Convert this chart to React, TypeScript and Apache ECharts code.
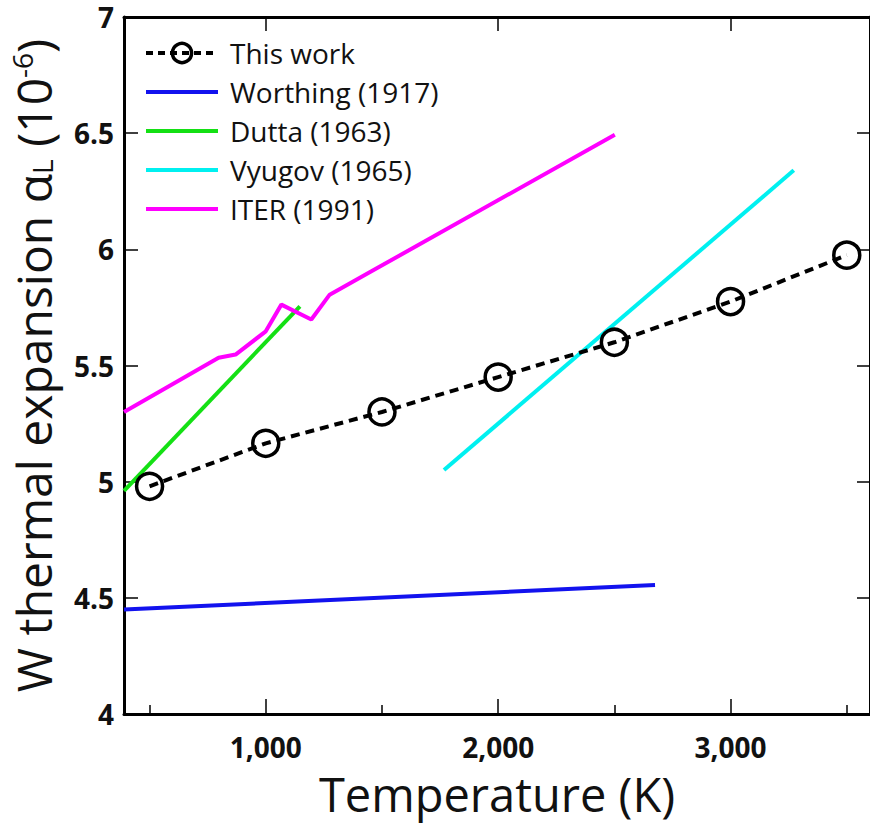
import React, { useEffect, useRef } from "react";
import * as echarts from "echarts";

// ---- data ----
const seriesNames = ["This work", "Worthing (1917)", "Dutta (1963)", "Vyugov (1965)", "ITER (1991)"];

const thisWorkT = [500, 1000, 1500, 2000, 2500, 3000, 3500];
const thisWorkA = [4.98, 5.165, 5.3, 5.45, 5.6, 5.775, 5.975];

const worthingT = [390, 2675];
const worthingA = [4.45, 4.555];

const duttaT = [390, 1147];
const duttaA = [4.96, 5.755];

const vyugovT = [1767, 3272];
const vyugovA = [5.05, 6.34];

const iterT = [390, 797, 870, 1000, 1067, 1196, 1275, 1468, 2502];
const iterA = [5.3, 5.533, 5.547, 5.647, 5.762, 5.698, 5.805, 5.913, 6.493];

const xMajorTicks = [1000, 2000, 3000];
const xMinorTicks = [500, 1500, 2500, 3500];

const lineColors = ["#000000", "#1212ee", "#14e014", "#00f0f0", "#ff00ff"];

const FONT = "'Open Sans', 'Noto Sans', 'DejaVu Sans', sans-serif";

const zip = (xs: number[], ys: number[]) => xs.map((x, i) => [x, ys[i]]);

export default function App() {
  const ref = useRef<HTMLDivElement>(null);

  useEffect(() => {
    if (!ref.current) return;
    const chart = echarts.init(ref.current, undefined, { renderer: "svg" });

    const xBase = { type: "value", min: 390, max: 3600, splitLine: { show: false } };
    const yBase = { type: "value", min: 4, max: 7, interval: 0.5, splitLine: { show: false } };

    const plainLine = (name: string, xs: number[], ys: number[], color: string) => ({
      name,
      type: "line",
      data: zip(xs, ys),
      symbol: "none",
      showSymbol: false,
      lineStyle: { color, width: 4 },
      itemStyle: { color: "rgba(0,0,0,0)", borderWidth: 0 },
      z: 2,
    });

    const legendLine = (name: string, color: string) => ({
      name,
      itemStyle: { color: "rgba(0,0,0,0)", borderWidth: 0, opacity: 0 },
      lineStyle: { color, width: 4 },
    });

    chart.setOption({
      animation: false,
      backgroundColor: "#ffffff",
      grid: { left: 123, top: 17, width: 751, height: 698, containLabel: false },
      legend: {
        data: [
          {
            name: seriesNames[0],
            itemStyle: { color: "rgba(255,255,255,0)", borderColor: "#000", borderWidth: 3.5 },
            lineStyle: { color: lineColors[0], width: 4, type: [7, 5] },
          },
          legendLine(seriesNames[1], lineColors[1]),
          legendLine(seriesNames[2], lineColors[2]),
          legendLine(seriesNames[3], lineColors[3]),
          legendLine(seriesNames[4], lineColors[4]),
        ],
        orient: "vertical",
        left: 139,
        top: 33,
        itemWidth: 72,
        itemHeight: 24,
        itemGap: 9,
        textStyle: {
          fontFamily: FONT,
          fontSize: 28,
          color: "#111",
          lineHeight: 30,
          padding: [0, 0, 0, 7],
        },
      },
      xAxis: [
        {
          ...xBase,
          position: "bottom",
          name: "Temperature (K)",
          nameLocation: "middle",
          nameGap: 54,
          nameTextStyle: { fontFamily: FONT, fontSize: 47, color: "#111", lineHeight: 52 },
          axisLine: { show: true, lineStyle: { color: "#000", width: 3 } },
          axisTick: {
            show: true,
            inside: true,
            length: 15,
            customValues: xMajorTicks,
            lineStyle: { color: "#000", width: 1.5 },
          },
          axisLabel: {
            customValues: xMajorTicks,
            margin: 19,
            fontFamily: FONT,
            fontSize: 28,
            lineHeight: 28,
            fontWeight: "bold",
            color: "#111",
            formatter: (v: number) => v.toLocaleString("en-US"),
          },
        },
        {
          ...xBase,
          position: "bottom",
          axisLine: { show: false },
          axisTick: {
            show: true,
            inside: true,
            length: 9,
            customValues: xMinorTicks,
            lineStyle: { color: "#000", width: 1.5 },
          },
          axisLabel: { show: false },
        },
        {
          ...xBase,
          position: "top",
          axisLine: { show: true, lineStyle: { color: "#000", width: 3 } },
          axisTick: {
            show: true,
            inside: true,
            length: 14,
            customValues: xMajorTicks,
            lineStyle: { color: "#000", width: 1.5 },
          },
          axisLabel: { show: false },
        },
      ],
      yAxis: [
        {
          ...yBase,
          position: "left",
          name: "{t|W thermal expansion α}{sub|L}{t| (10}{sup|-6}{t|)}",
          nameLocation: "middle",
          nameGap: 60,
          nameTextStyle: {
            fontFamily: FONT,
            fontSize: 48,
            color: "#111",
            rich: {
              t: { fontFamily: FONT, fontSize: 48, color: "#111", lineHeight: 62 },
              sub: { fontFamily: FONT, fontSize: 28, color: "#111", padding: [17, 0, 0, 0], lineHeight: 62 },
              sup: { fontFamily: FONT, fontSize: 28, color: "#111", padding: [0, 0, 22, 0], lineHeight: 62 },
            },
          },
          axisLine: { show: true, lineStyle: { color: "#000", width: 3 } },
          axisTick: { show: true, inside: true, length: 14, lineStyle: { color: "#000", width: 1.5 } },
          axisLabel: {
            margin: 10,
            fontFamily: FONT,
            fontSize: 28,
            lineHeight: 28,
            fontWeight: "bold",
            color: "#111",
          },
        },
        {
          ...yBase,
          position: "right",
          axisLine: { show: true, lineStyle: { color: "#000", width: 3 } },
          axisTick: { show: true, inside: true, length: 13, lineStyle: { color: "#000", width: 1.5 } },
          axisLabel: { show: false },
        },
      ],
      series: [
        plainLine(seriesNames[1], worthingT, worthingA, lineColors[1]),
        plainLine(seriesNames[2], duttaT, duttaA, lineColors[2]),
        plainLine(seriesNames[3], vyugovT, vyugovA, lineColors[3]),
        plainLine(seriesNames[4], iterT, iterA, lineColors[4]),
        {
          name: seriesNames[0],
          type: "line",
          data: zip(thisWorkT, thisWorkA),
          symbol: "circle",
          symbolSize: 26,
          showSymbol: true,
          lineStyle: { color: lineColors[0], width: 4, type: [9, 6] },
          itemStyle: { color: "rgba(255,255,255,0)", borderColor: "#000", borderWidth: 3.5 },
          z: 5,
        },
      ],
    });

    return () => chart.dispose();
  }, []);

  return (
    <div
      ref={ref}
      style={{ position: "absolute", left: 0, top: 0, width: 870, height: 825 }}
    />
  );
}
